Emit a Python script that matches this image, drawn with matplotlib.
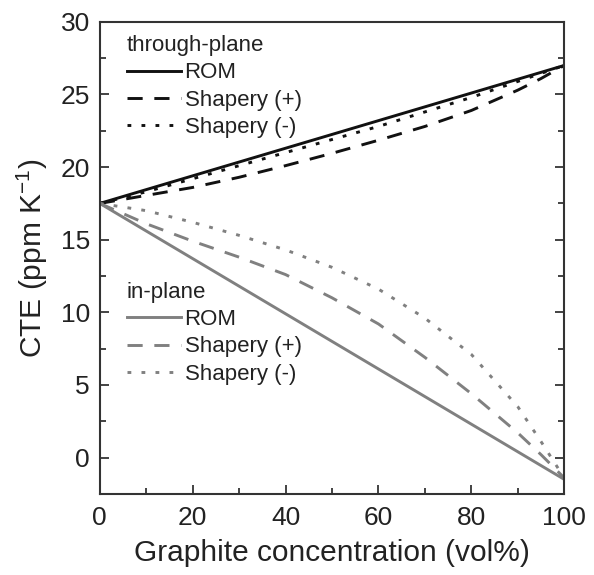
import matplotlib
matplotlib.use("Agg")
import matplotlib.pyplot as plt
from matplotlib.ticker import MultipleLocator

plt.rcParams['font.family'] = ['Liberation Sans', 'DejaVu Sans']
plt.rcParams['mathtext.fontset'] = 'custom'
plt.rcParams['mathtext.rm'] = 'Liberation Sans'

# graphite concentration (vol%)
conc = [0, 10, 20, 30, 40, 50, 60, 70, 80, 90, 95, 100]

# through-plane CTE (ppm/K)
tp_rom = [17.5, 18.45, 19.4, 20.35, 21.3, 22.25, 23.2, 24.15, 25.1, 26.05, 26.525, 27.0]
tp_shap_plus = [17.5, 18.05, 18.6, 19.3, 20.1, 20.95, 21.85, 22.8, 23.9, 25.3, 26.1, 27.0]
tp_shap_minus = [17.5, 18.3, 19.2, 20.1, 21.0, 21.9, 22.8, 23.8, 24.8, 25.9, 26.45, 27.0]

# in-plane CTE (ppm/K)
ip_rom = [17.5, 15.6, 13.7, 11.8, 9.9, 8.0, 6.1, 4.2, 2.3, 0.4, -0.55, -1.5]
ip_shap_plus = [17.5, 16.1, 14.9, 13.8, 12.6, 11.0, 9.2, 6.9, 4.4, 1.7, 0.2, -1.4]
ip_shap_minus = [17.5, 17.0, 16.2, 15.3, 14.3, 13.1, 11.6, 9.6, 7.1, 3.5, 1.1, -1.4]

black = '#111111'
gray = '#808080'
txt = '#222222'
lw = 2.1
dash = (5.2, 4.0)
dot = (1.3, 3.5)

fig, ax = plt.subplots(figsize=(5.94, 5.75), dpi=100)
fig.subplots_adjust(left=0.168, right=0.95, top=0.962, bottom=0.141)

l1, = ax.plot(conc, tp_rom, color=black, lw=lw, label='ROM')
l2, = ax.plot(conc, tp_shap_plus, color=black, lw=lw, dashes=dash, label='Shapery (+)')
l3, = ax.plot(conc, tp_shap_minus, color=black, lw=lw, dashes=dot, label='Shapery (-)')

g1, = ax.plot(conc, ip_rom, color=gray, lw=lw, label='ROM')
g2, = ax.plot(conc, ip_shap_plus, color=gray, lw=lw, dashes=dash, label='Shapery (+)')
g3, = ax.plot(conc, ip_shap_minus, color=gray, lw=lw, dashes=dot, label='Shapery (-)')

ax.set_xlim(0, 100)
ax.set_ylim(-2.5, 30)
ax.xaxis.set_major_locator(MultipleLocator(20))
ax.xaxis.set_minor_locator(MultipleLocator(10))
ax.yaxis.set_major_locator(MultipleLocator(5))
ax.yaxis.set_minor_locator(MultipleLocator(2.5))
ax.tick_params(which='both', direction='in', left=True, right=True, bottom=True, top=False,
               labelsize=19, colors=txt, width=1.2)
ax.tick_params(which='major', length=6.8)
ax.tick_params(axis='x', which='major', pad=9)
ax.tick_params(axis='y', which='major', pad=7)
ax.tick_params(which='minor', length=4.3)
for s in ax.spines.values():
    s.set_linewidth(1.5)
    s.set_color('#333333')

ax.set_xlabel('Graphite concentration (vol%)', fontsize=21.5, color=txt, labelpad=6)
ax.set_ylabel('CTE (ppm K$^{-1}$)', fontsize=21.5, color=txt, labelpad=8)

leg_kw = dict(loc='upper left', frameon=False, fontsize=16, title_fontsize=16,
              handlelength=2.45, handletextpad=0.15, labelspacing=0.28,
              borderpad=0.0, borderaxespad=0.0, labelcolor=txt)

leg1 = ax.legend(handles=[l1, l2, l3], title='through-plane',
                 bbox_to_anchor=(0.058, 0.972), **leg_kw)
leg1._legend_box.align = 'left'
leg1.get_title().set_color(txt)
ax.add_artist(leg1)

leg2 = ax.legend(handles=[g1, g2, g3], title='in-plane',
                 bbox_to_anchor=(0.058, 0.449), **leg_kw)
leg2._legend_box.align = 'left'
leg2.get_title().set_color(txt)

fig.savefig('out.png', dpi=100)
